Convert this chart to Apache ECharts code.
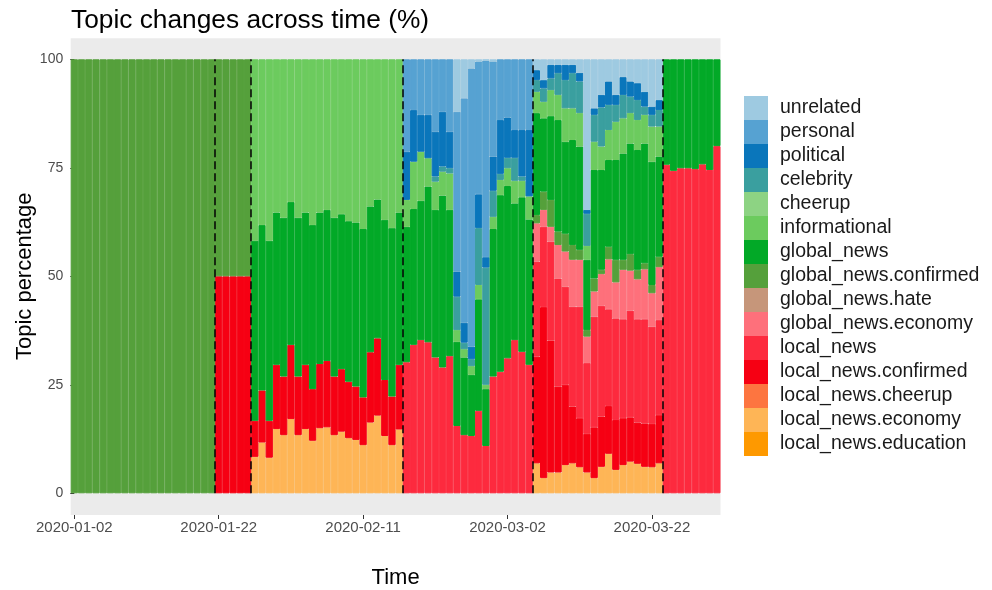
<!DOCTYPE html>
<html>
<head>
<meta charset="utf-8">
<script src="https://cdn.jsdelivr.net/npm/echarts@6.0.0/dist/echarts.min.js"></script>
<style>
  html, body { margin: 0; padding: 0; background: #fff; }
  #chart { width: 992px; height: 590px; }
</style>
</head>
<body>
<div id="chart"></div>
<script>
// days shown on the x axis
var days = [
  "2020-01-02","2020-01-03","2020-01-04","2020-01-05","2020-01-06","2020-01-07","2020-01-08","2020-01-09","2020-01-10","2020-01-11",
  "2020-01-12","2020-01-13","2020-01-14","2020-01-15","2020-01-16","2020-01-17","2020-01-18","2020-01-19","2020-01-20","2020-01-21",
  "2020-01-22","2020-01-23","2020-01-24","2020-01-25","2020-01-26","2020-01-27","2020-01-28","2020-01-29","2020-01-30","2020-01-31",
  "2020-02-01","2020-02-02","2020-02-03","2020-02-04","2020-02-05","2020-02-06","2020-02-07","2020-02-08","2020-02-09","2020-02-10",
  "2020-02-11","2020-02-12","2020-02-13","2020-02-14","2020-02-15","2020-02-16","2020-02-17","2020-02-18","2020-02-19","2020-02-20",
  "2020-02-21","2020-02-22","2020-02-23","2020-02-24","2020-02-25","2020-02-26","2020-02-27","2020-02-28","2020-02-29","2020-03-01",
  "2020-03-02","2020-03-03","2020-03-04","2020-03-05","2020-03-06","2020-03-07","2020-03-08","2020-03-09","2020-03-10","2020-03-11",
  "2020-03-12","2020-03-13","2020-03-14","2020-03-15","2020-03-16","2020-03-17","2020-03-18","2020-03-19","2020-03-20","2020-03-21",
  "2020-03-22","2020-03-23","2020-03-24","2020-03-25","2020-03-26","2020-03-27","2020-03-28","2020-03-29","2020-03-30","2020-03-31"
];
var yTicks = [0, 25, 50, 75, 100];
// phase borders (between day indexes)
var phaseBreaks = [19.5, 24.5, 45.5, 63.5, 81.5];

// topic shares in %, one value per day
// rows: 01-02..01-21 | 01-22..01-26 | 01-27..02-16 | 02-17..03-05 | 03-06..03-23 | 03-24..03-31
var localEducation = [];
var localEconomy = [
  0,0,0,0,0,0,0,0,0,0,0,0,0,0,0,0,0,0,0,0,
  0,0,0,0,0,
  8.4,11.7,8.2,14.8,13.4,17.1,13.4,14.8,12.1,15.0,15.2,13.4,14.2,12.7,12.3,11.1,16.3,17.9,13.2,11.1,14.7,
  0,0,0,0,0,0,0,0,0,0,0,0,0,0,0,0,0,0,
  6.9,3.5,4.8,4.8,6.5,6.9,6.0,4.8,3.5,6.1,9.1,5.4,6.5,7.3,6.8,6.1,6.0,6.9,
  0,0,0,0,0,0,0,0
];
var localCheerup = [];
var localConfirmed = [
  0,0,0,0,0,0,0,0,0,0,0,0,0,0,0,0,0,0,0,0,
  50,50,50,50,50,
  8.3,12.0,8.5,14.8,13.5,17.1,13.5,14.8,11.9,14.8,15.3,13.5,14.4,13.0,12.3,11.0,16.2,17.8,12.9,11.2,14.9,
  0,0,0,0,0,0,0,0,0,0,0,0,0,0,0,0,0,0,
  24.6,39.4,30.4,19.8,18.5,13.1,11.3,8.9,11.7,11.6,11.0,11.5,10.8,10.2,9.5,10.0,10.0,11.1,
  0,0,0,0,0,0,0,0
];
var localNews = [
  0,0,0,0,0,0,0,0,0,0,0,0,0,0,0,0,0,0,0,0,
  0,0,0,0,0,
  0,0,0,0,0,0,0,0,0,0,0,0,0,0,0,0,0,0,0,0,0,
  30.2,34.2,35.3,34.8,31.3,29.0,31.6,15.5,13.4,13.2,19.0,10.9,26.9,28.0,31.1,35.3,32.6,29.6,
  21.9,18.5,22.8,24.9,22.6,23.0,25.7,16.3,25.5,25.5,22.3,23.4,22.8,24.6,23.8,24.0,22.4,21.9,
  75.7,74.3,74.9,74.9,74.7,75.8,74.5,80.0
];
var globalEconomy = [
  0,0,0,0,0,0,0,0,0,0,0,0,0,0,0,0,0,0,0,0,
  0,0,0,0,0,
  0,0,0,0,0,0,0,0,0,0,0,0,0,0,0,0,0,0,0,0,0,
  0,0,0,0,0,0,0,0,0,0,0,0,0,0,0,0,0,0,
  8.8,3.9,3.4,7.7,8.1,10.8,10.8,6.1,5.8,7.3,11.5,8.3,11.4,9.2,9.2,11.5,7.7,12.2,
  0,0,0,0,0,0,0,0
];
var globalHate = [];
var globalConfirmed = [
  100,100,100,100,100,100,100,100,100,100,100,100,100,100,100,100,100,100,100,100,
  50,50,50,50,50,
  0,0,0,0,0,0,0,0,0,0,0,0,0,0,0,0,0,0,0,0,0,
  0,0,0,0,0,0,0,0,0,0,0,0,0,0,0,0,0,0,
  1.9,4.2,6.2,3.1,4.1,3.4,2.3,1.5,3.0,1.0,2.9,5.2,2.3,3.8,2.2,1.4,1.9,2.4,
  0,0,0,0,0,0,0,0
];
var globalNews = [
  0,0,0,0,0,0,0,0,0,0,0,0,0,0,0,0,0,0,0,0,
  0,0,0,0,0,
  41.5,38.1,41.5,35.1,36.6,32.9,36.6,35.1,37.8,34.9,34.8,36.6,35.7,37.0,37.8,38.8,33.6,32.0,36.9,38.8,35.1,
  31.2,31.3,32.1,35.9,34.0,39.6,33.7,19.4,17.9,14.1,25.7,13.1,34.0,40.7,39.7,31.5,35.6,33.5,
  23.5,16.9,19.3,25.7,21.2,24.2,23.8,16.2,25.0,23.0,20.0,23.0,24.5,25.5,27.6,27.6,28.4,23.1,
  24.3,25.7,25.1,25.1,25.3,24.2,25.5,20.0
];
var informational = [
  0,0,0,0,0,0,0,0,0,0,0,0,0,0,0,0,0,0,0,0,
  0,0,0,0,0,
  41.8,38.2,41.8,35.3,36.5,32.9,36.5,35.3,38.2,35.3,34.7,36.5,35.7,37.3,37.6,39.1,33.9,32.3,37.0,38.9,35.3,
  6.2,10.9,11.3,6.5,6.5,5.5,8.4,2.7,1.9,2.0,3.3,1.0,2.8,3.5,4.1,5.2,3.8,5.3,
  4.9,3.8,6.0,5.8,7.7,7.3,7.7,3.2,6.5,5.4,6.9,8.8,8.1,7.0,6.9,6.6,8.1,6.9,
  0,0,0,0,0,0,0,0
];
var cheerup = [];
var celebrity = [
  0,0,0,0,0,0,0,0,0,0,0,0,0,0,0,0,0,0,0,0,
  0,0,0,0,0,
  0,0,0,0,0,0,0,0,0,0,0,0,0,0,0,0,0,0,0,0,0,
  0,0,0,0,1.2,1.2,1.2,7.7,1.5,1.6,13.1,27.0,6.0,1.4,2.4,5.3,1.0,0,
  2.7,3.1,2.7,5.0,6.5,8.1,7.3,7.4,6.2,9.0,5.8,3.9,5.4,3.8,4.6,1.9,2.7,3.8,
  0,0,0,0,0,0,0,0
];
var political = [
  0,0,0,0,0,0,0,0,0,0,0,0,0,0,0,0,0,0,0,0,
  0,0,0,0,0,
  0,0,0,0,0,0,0,0,0,0,0,0,0,0,0,0,0,0,0,0,0,
  11.1,11.9,8.5,10.0,10.3,12.6,8.4,5.8,4.6,2.9,7.8,2.4,7.9,12.4,9.3,6.4,10.7,15.3,
  2.3,1.9,3.1,1.9,3.5,1.9,2.0,0.9,1.5,2.9,5.4,2.3,4.1,3.5,3.9,3.4,1.9,2.3,
  0,0,0,0,0,0,0,0
];
var personal = [
  0,0,0,0,0,0,0,0,0,0,0,0,0,0,0,0,0,0,0,0,
  0,0,0,0,0,
  0,0,0,0,0,0,0,0,0,0,0,0,0,0,0,0,0,0,0,0,0,
  21.3,11.7,12.8,12.8,16.7,12.1,16.7,36.8,51.7,64.1,30.6,45.3,21.9,14.0,13.4,16.3,16.3,16.3,
  0,0,0,0,0,0,0,0,0,0,0,0,0,0,0,0,0,0,
  0,0,0,0,0,0,0,0
];
var unrelated = [
  0,0,0,0,0,0,0,0,0,0,0,0,0,0,0,0,0,0,0,0,
  0,0,0,0,0,
  0,0,0,0,0,0,0,0,0,0,0,0,0,0,0,0,0,0,0,0,0,
  0,0,0,0,0,0,0,12.1,9.0,2.1,0.5,0.3,0.5,0,0,0,0,0,
  2.5,4.8,1.3,1.3,1.3,1.3,3.1,34.7,11.3,8.2,5.1,8.2,4.1,5.1,5.5,7.5,10.9,9.4,
  0,0,0,0,0,0,0,0
];

// stacking order: first entry sits at the bottom
var topics = [
  { name: "local_news.education",  color: "#FE9900", data: localEducation },
  { name: "local_news.economy",    color: "#FEB556", data: localEconomy },
  { name: "local_news.cheerup",    color: "#FD7540", data: localCheerup },
  { name: "local_news.confirmed",  color: "#F60013", data: localConfirmed },
  { name: "local_news",            color: "#FD2A3E", data: localNews },
  { name: "global_news.economy",   color: "#FE707B", data: globalEconomy },
  { name: "global_news.hate",      color: "#C6967A", data: globalHate },
  { name: "global_news.confirmed", color: "#55A03B", data: globalConfirmed },
  { name: "global_news",           color: "#02A927", data: globalNews },
  { name: "informational",         color: "#6CCB5E", data: informational },
  { name: "cheerup",               color: "#8DD383", data: cheerup },
  { name: "celebrity",             color: "#3A9F9F", data: celebrity },
  { name: "political",             color: "#0A76BB", data: political },
  { name: "personal",              color: "#56A2D2", data: personal },
  { name: "unrelated",             color: "#9ECAE1", data: unrelated }
];

var FONT = "'Liberation Sans', Arial, Helvetica, sans-serif";
var PANEL = { x: 70.7, y: 38.3, w: 649.8, h: 476.7 };

function drawChart() {
  var myChart = echarts.init(document.getElementById("chart"), null, { renderer: "canvas" });

  var series = topics.map(function (t) {
    return {
      name: t.name,
      type: "bar",
      stack: "total",
      barCategoryGap: "0%",
      // thin border in the fill colour hides the seams between days
      itemStyle: { color: t.color, borderColor: t.color, borderWidth: 1 },
      // empty days are left out so their borders are not drawn
      data: t.data.map(function (v) { return v === 0 ? "-" : v; })
    };
  });

  // dashed phase borders, drawn on a hidden value axis
  series.push({
    name: "breaks",
    type: "line",
    xAxisIndex: 1,
    yAxisIndex: 0,
    data: [],
    silent: true,
    z: 5,
    markLine: {
      silent: true,
      symbol: ["none", "none"],
      label: { show: false },
      lineStyle: { color: "#000", width: 1.5, type: [8, 4] },
      data: phaseBreaks.map(function (v) { return { xAxis: v }; })
    }
  });

  var option = {
    animation: false,
    backgroundColor: "#fff",
    textStyle: { fontFamily: FONT },
    title: {
      text: "Topic changes across time (%)",
      left: 71,
      top: 8,
      padding: [0, 0, 0, 0],
      textStyle: { fontFamily: FONT, fontSize: 26.3, fontWeight: "normal", color: "#000" }
    },
    graphic: [{
      type: "rect",
      silent: true,
      z: -1,
      shape: { x: PANEL.x, y: PANEL.y, width: PANEL.w, height: PANEL.h },
      style: { fill: "#EBEBEB" }
    }],
    legend: {
      orient: "vertical",
      left: 744,
      top: 96,
      padding: 0,
      itemWidth: 22,
      itemHeight: 22,
      itemGap: 0,
      icon: "rect",
      selectedMode: false,
      data: topics.map(function (t) { return t.name; }).reverse(),
      textStyle: { fontFamily: FONT, fontSize: 19.5, color: "#1a1a1a", padding: [0, 0, 0, 8], lineHeight: 20 }
    },
    grid: {
      left: 70.7,
      top: 59.3,
      width: 649.8,
      height: 434,
      containLabel: false,
      outerBoundsMode: "none"
    },
    xAxis: [
      {
        type: "category",
        data: days,
        offset: 21.7,
        name: "Time",
        nameLocation: "middle",
        nameGap: 52,
        nameMoveOverlap: false,
        nameTextStyle: { fontFamily: FONT, fontSize: 22, color: "#000" },
        axisLine: { show: false, onZero: false },
        axisTick: { show: true, alignWithLabel: true, interval: 19, length: 4, lineStyle: { color: "#333", width: 1 } },
        axisLabel: { interval: 19, fontFamily: FONT, fontSize: 15, color: "#4D4D4D", margin: 5 },
        splitLine: { show: false }
      },
      {
        type: "value",
        min: -0.5,
        max: 89.5,
        show: false
      }
    ],
    yAxis: {
      type: "value",
      min: yTicks[0],
      max: yTicks[yTicks.length - 1],
      interval: 25,
      name: "Topic percentage",
      nameLocation: "middle",
      nameGap: 35,
      nameMoveOverlap: false,
      nameTextStyle: { fontFamily: FONT, fontSize: 22, color: "#000" },
      axisLine: { show: false },
      axisTick: { show: true, length: 4, lineStyle: { color: "#333", width: 1 } },
      axisLabel: { fontFamily: FONT, fontSize: 14, color: "#4D4D4D", margin: 7.5 },
      splitLine: { show: false }
    },
    series: series
  };

  myChart.setOption(option);
}

drawChart();
</script>
</body>
</html>
